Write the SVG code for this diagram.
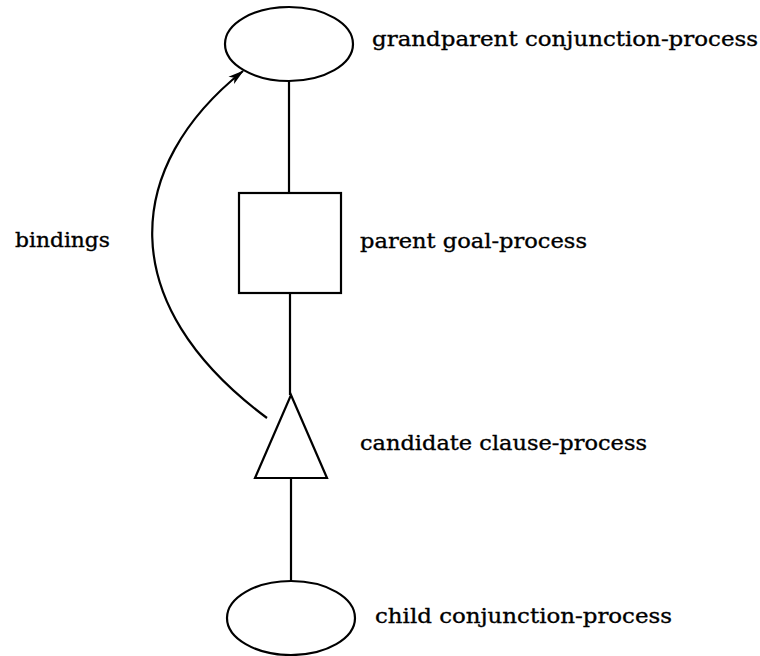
<svg xmlns="http://www.w3.org/2000/svg" width="760" height="656" viewBox="0 0 760 656">
  <style>
    .shape { fill: #ffffff; stroke: #000000; stroke-width: 2.2; }
    .edge { fill: none; stroke: #000000; stroke-width: 2.2; }
    .label { font-family: "DejaVu Serif", "Liberation Serif", serif; font-size: 21px; fill: #000000; stroke: #000000; stroke-width: 0.35; }
  </style>
  <defs>
    <marker id="arrow" viewBox="0 0 16 11" refX="15" refY="5.5" markerWidth="16" markerHeight="11" markerUnits="userSpaceOnUse" orient="auto">
      <path d="M0,1 L16,5.5 L0,10 L4,5.5 Z" fill="#000000"/>
    </marker>
  </defs>

  <rect width="760" height="656" fill="#ffffff"/>

  <!-- connectors -->
  <g id="connectors">
    <line class="edge" x1="289" y1="81" x2="289" y2="193"/>
    <line class="edge" x1="290" y1="293" x2="290" y2="395"/>
    <line class="edge" x1="291" y1="478" x2="291" y2="581"/>
    <path class="edge" d="M267,418 C112,303 124,166 243,71" marker-end="url(#arrow)"/>
    <text class="label" x="15" y="247" textLength="95" lengthAdjust="spacingAndGlyphs">bindings</text>
  </g>

  <!-- grandparent conjunction-process -->
  <g id="grandparent">
    <ellipse class="shape" cx="289" cy="44" rx="64" ry="37"/>
    <text class="label" x="372" y="46" textLength="386" lengthAdjust="spacingAndGlyphs">grandparent conjunction-process</text>
  </g>

  <!-- parent goal-process -->
  <g id="parent">
    <rect class="shape" x="239" y="193" width="102" height="100"/>
    <text class="label" x="360" y="248" textLength="227" lengthAdjust="spacingAndGlyphs">parent goal-process</text>
  </g>

  <!-- candidate clause-process -->
  <g id="candidate">
    <polygon class="shape" points="291,395 327,478 255,478"/>
    <text class="label" x="360" y="450" textLength="287" lengthAdjust="spacingAndGlyphs">candidate clause-process</text>
  </g>

  <!-- child conjunction-process -->
  <g id="child">
    <ellipse class="shape" cx="291" cy="618" rx="64" ry="37"/>
    <text class="label" x="375" y="623" textLength="297" lengthAdjust="spacingAndGlyphs">child conjunction-process</text>
  </g>
</svg>
